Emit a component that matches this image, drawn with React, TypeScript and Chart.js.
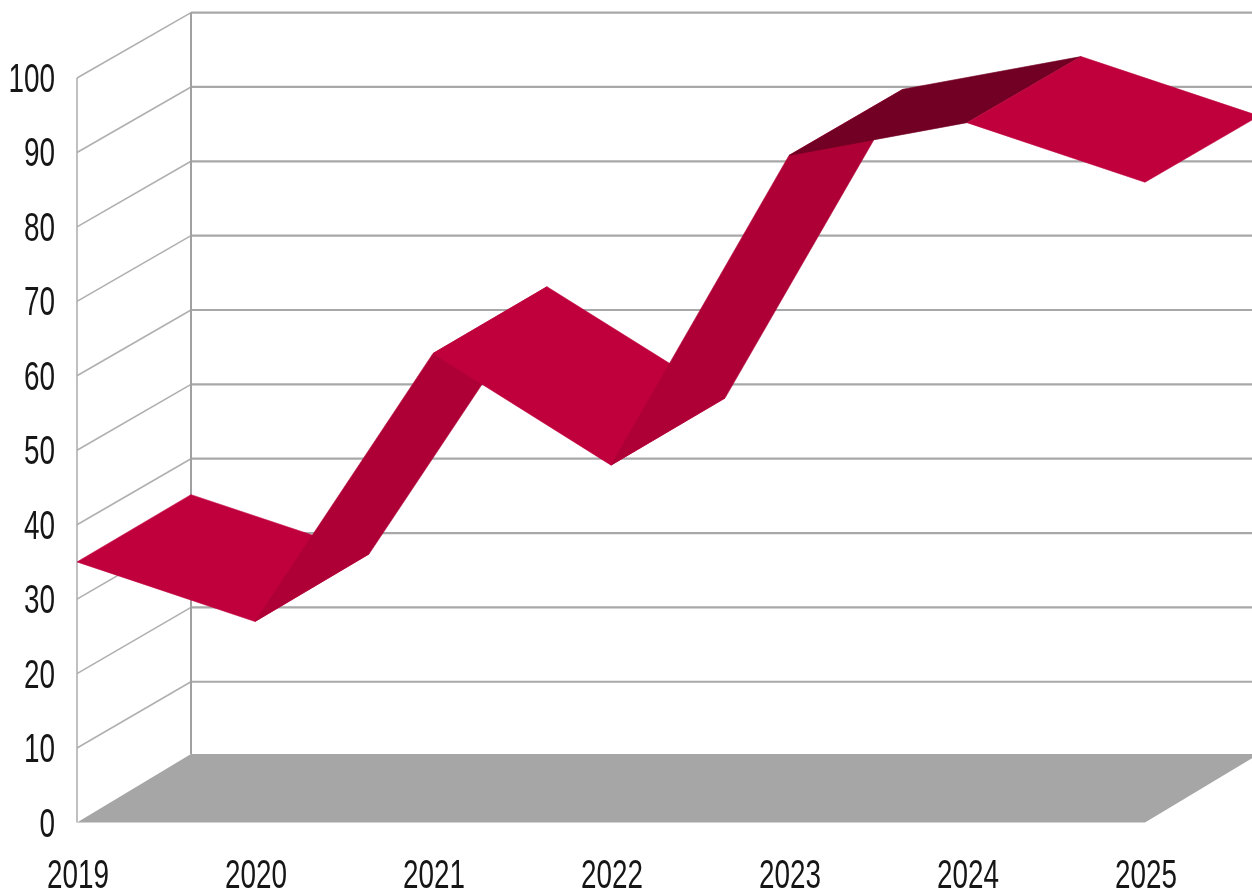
import React, { useEffect, useRef } from "react";
import { Chart, registerables } from "chart.js";

Chart.register(...registerables);

const years = ["2019", "2020", "2021", "2022", "2023", "2024", "2025"];
const values = [35, 27, 63, 48, 89.6, 94, 86];
const segmentColors = ["#C0003C", "#AE0036", "#C0003C", "#AE0036", "#720024", "#C0003C"];

const DEPTH_X = 114;
const FLOOR_DEPTH_Y = 68.5;
const wallDepthY = (y: number) => 65.4 + (1.0 * (y - 78)) / 745;
const ribbonDepthY = (y: number) => 66 + (2 * (y - 78)) / 745;
const LABEL_SQUEEZE = 0.68;
const LABEL_FONT = "41px 'Liberation Sans', Arial, sans-serif";
const LABEL_COLOR = "#161616";

const scene3d = {
  id: "scene3d",
  beforeDraw(chart: any) {
    const { ctx, scales } = chart;
    const xs = scales.x;
    const ys = scales.y;
    const left = xs.getPixelForValue(0);
    const right = xs.getPixelForValue(years.length - 1);
    const bottom = ys.getPixelForValue(0);
    const top = ys.getPixelForValue(100);
    const backLeft = left + DEPTH_X;
    const floorBack = bottom - FLOOR_DEPTH_Y;
    const wallTop = top - wallDepthY(top);
    ctx.save();
    // floor
    ctx.fillStyle = "#A6A6A6";
    ctx.beginPath();
    ctx.moveTo(left, bottom);
    ctx.lineTo(right, bottom);
    ctx.lineTo(right + DEPTH_X, floorBack);
    ctx.lineTo(backLeft, floorBack);
    ctx.closePath();
    ctx.fill();
    // walls
    for (const t of ys.ticks) {
      if (t.value <= 0) continue;
      const y = ys.getPixelForValue(t.value);
      const by = y - wallDepthY(y);
      ctx.strokeStyle = "#B0B0B0";
      ctx.lineWidth = 1.6;
      ctx.beginPath();
      ctx.moveTo(left, y);
      ctx.lineTo(backLeft, by);
      ctx.stroke();
      ctx.strokeStyle = "#A8A8A8";
      ctx.lineWidth = 2.2;
      ctx.beginPath();
      ctx.moveTo(backLeft, by);
      ctx.lineTo(right + DEPTH_X, by);
      ctx.stroke();
    }
    ctx.strokeStyle = "#ABABAB";
    ctx.lineWidth = 1.5;
    ctx.beginPath();
    ctx.moveTo(left, top);
    ctx.lineTo(left, bottom);
    ctx.stroke();
    ctx.strokeStyle = "#A0A0A0";
    ctx.lineWidth = 2;
    ctx.beginPath();
    ctx.moveTo(backLeft, wallTop);
    ctx.lineTo(backLeft, floorBack);
    ctx.stroke();
    ctx.restore();
  },
  afterDatasetsDraw(chart: any) {
    const { ctx, scales } = chart;
    const pts = chart.getDatasetMeta(0).data;
    ctx.save();
    for (let i = 0; i < pts.length - 1; i++) {
      const a = pts[i];
      const b = pts[i + 1];
      ctx.fillStyle = segmentColors[i];
      ctx.strokeStyle = segmentColors[i];
      ctx.lineWidth = 0.6;
      ctx.beginPath();
      ctx.moveTo(a.x, a.y);
      ctx.lineTo(b.x, b.y);
      ctx.lineTo(b.x + DEPTH_X, b.y - ribbonDepthY(b.y));
      ctx.lineTo(a.x + DEPTH_X, a.y - ribbonDepthY(a.y));
      ctx.closePath();
      ctx.fill();
      ctx.stroke();
    }
    ctx.restore();

    // narrow tick labels
    ctx.save();
    ctx.font = LABEL_FONT;
    ctx.fillStyle = LABEL_COLOR;
    ctx.textBaseline = "alphabetic";
    ctx.textAlign = "right";
    for (const t of scales.y.ticks) {
      const y = scales.y.getPixelForValue(t.value);
      ctx.save();
      ctx.translate(55, y + 14);
      ctx.scale(LABEL_SQUEEZE, 1);
      ctx.fillText(String(t.label), 0, 0);
      ctx.restore();
    }
    ctx.textAlign = "center";
    scales.x.ticks.forEach((t: any, i: number) => {
      const x = scales.x.getPixelForValue(i);
      ctx.save();
      ctx.translate(x + 1, 888);
      ctx.scale(LABEL_SQUEEZE, 1);
      ctx.fillText(String(t.label), 0, 0);
      ctx.restore();
    });
    ctx.restore();
  },
};

export default function App() {
  const ref = useRef<HTMLCanvasElement>(null);
  useEffect(() => {
    document.body.style.margin = "0";
    document.body.style.overflow = "hidden";
    const chart = new Chart(ref.current!, {
      type: "line",
      data: {
        labels: years,
        datasets: [
          {
            label: "Series",
            data: values,
            showLine: false,
            pointRadius: 0,
            borderColor: "#C0003C",
            backgroundColor: "#C0003C",
          },
        ],
      },
      plugins: [scene3d],
      options: {
        animation: false,
        responsive: false,
        devicePixelRatio: 1,
        layout: { padding: { top: 78, right: 107, left: 0, bottom: 0 } },
        plugins: { legend: { display: false }, tooltip: { enabled: false }, title: { display: false } },
        scales: {
          x: {
            type: "category",
            offset: false,
            grid: { display: false },
            border: { display: false },
            afterFit: (s: any) => { s.height = 67.5; },
            ticks: { display: false, autoSkip: false, maxRotation: 0 },
          },
          y: {
            min: 0,
            max: 100,
            grid: { display: false },
            border: { display: false },
            afterFit: (s: any) => { s.width = 77; },
            ticks: { display: false, stepSize: 10 },
          },
        },
      },
    } as any);
    return () => chart.destroy();
  }, []);
  return (
    <div style={{ position: "fixed", left: 0, top: 0, width: 1252, height: 890, background: "#fff" }}>
      <canvas
        ref={ref}
        width={1252}
        height={890}
        style={{ display: "block", width: 1252, height: 890, filter: "blur(0.5px)" }}
      />
    </div>
  );
}
